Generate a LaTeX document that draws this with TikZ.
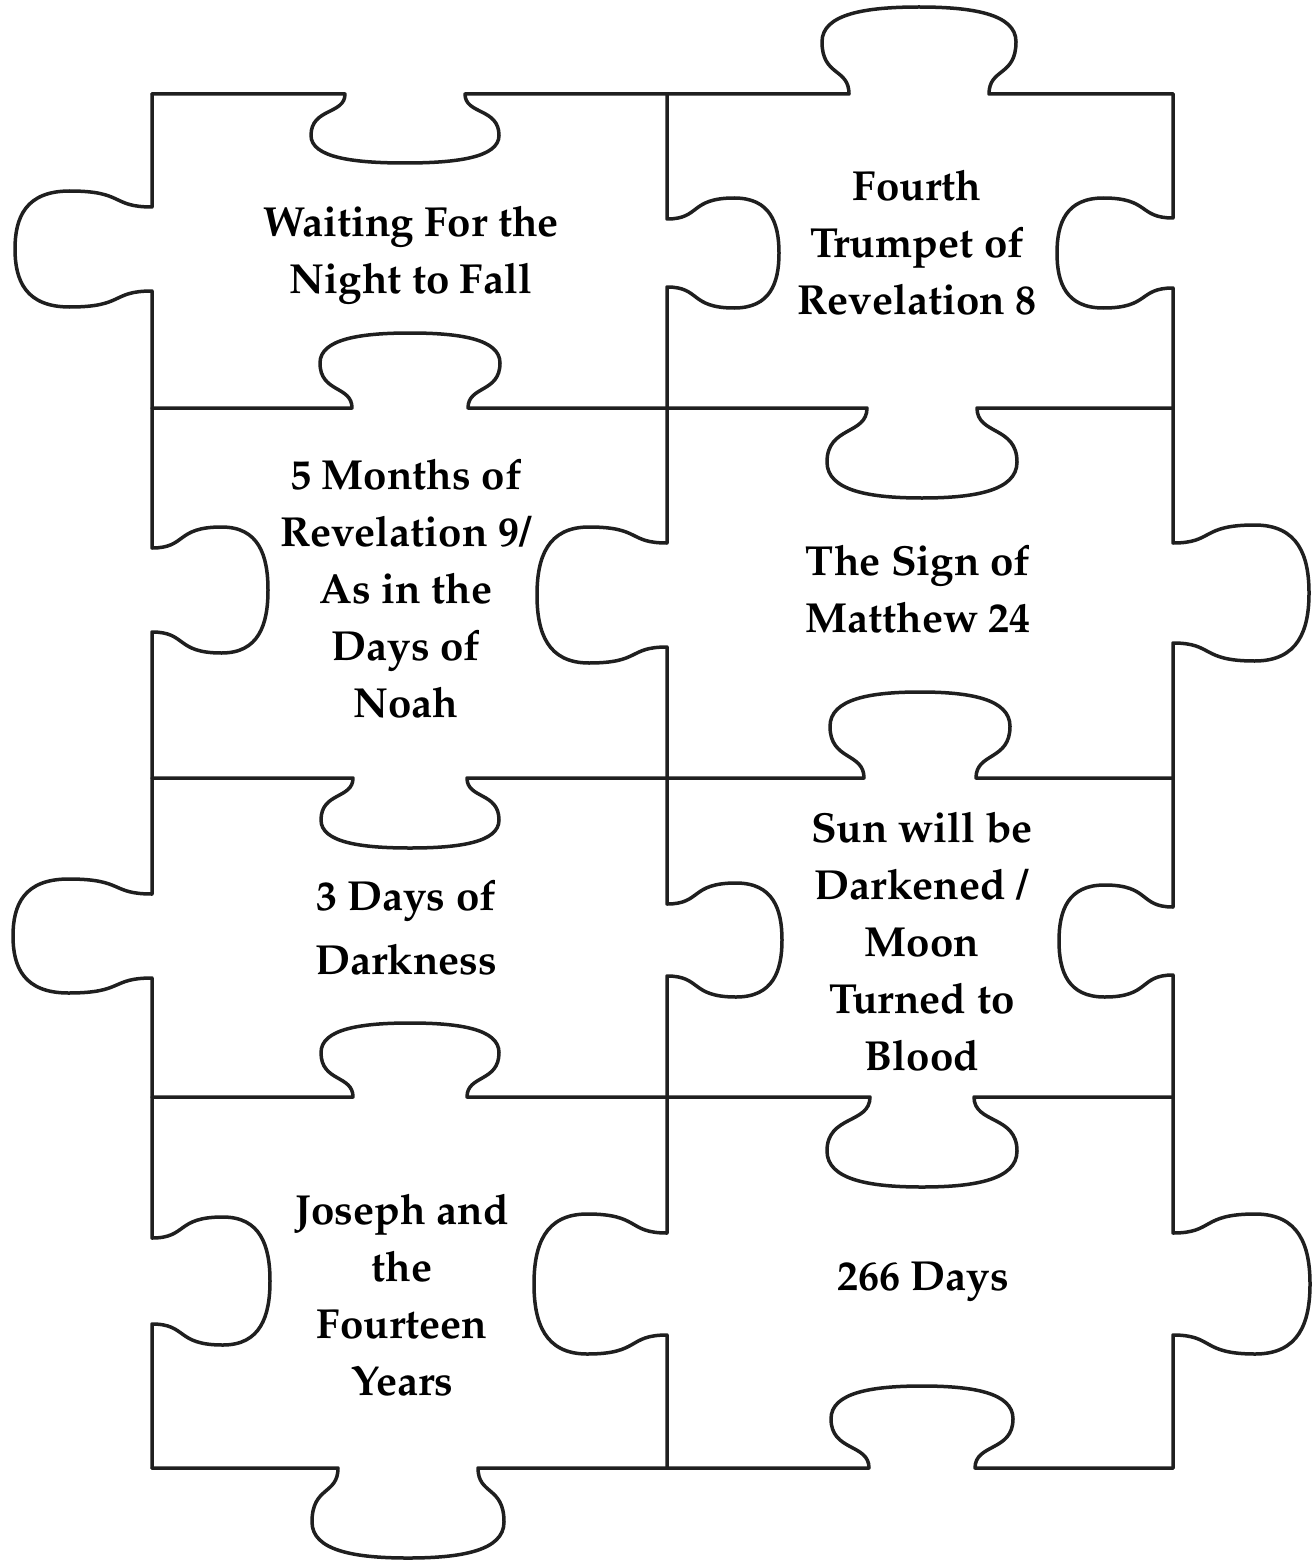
\documentclass[tikz,border=0pt]{standalone}
\usepackage[T1]{fontenc}
\renewcommand{\rmdefault}{ppl}
\tikzset{
  edge/.style={line width=3.5pt, black!88, line join=round, line cap=round},
  hb/.style n args={5}{insert path={
    -- ({#1-#3},#2)
    .. controls ({#1-#3},{#2+0.3*(#5)}) and ({#1-#4},{#2+0.2*(#5)}) .. ({#1-#4},{#2+0.6*(#5)})
    .. controls ({#1-#4},{#2+0.92*(#5)}) and ({#1-0.55*#4},{#2+#5}) .. (#1,{#2+#5})
    .. controls ({#1+0.55*#4},{#2+#5}) and ({#1+#4},{#2+0.92*(#5)}) .. ({#1+#4},{#2+0.6*(#5)})
    .. controls ({#1+#4},{#2+0.2*(#5)}) and ({#1+#3},{#2+0.3*(#5)}) .. ({#1+#3},#2)}},
  vb/.style n args={5}{insert path={
    -- (#2,{#1-#3})
    .. controls ({#2+0.3*(#5)},{#1-#3}) and ({#2+0.2*(#5)},{#1-#4}) .. ({#2+0.6*(#5)},{#1-#4})
    .. controls ({#2+0.92*(#5)},{#1-#4}) and ({#2+#5},{#1-0.55*#4}) .. ({#2+#5},#1)
    .. controls ({#2+#5},{#1+0.55*#4}) and ({#2+0.92*(#5)},{#1+#4}) .. ({#2+0.6*(#5)},{#1+#4})
    .. controls ({#2+0.2*(#5)},{#1+#4}) and ({#2+0.3*(#5)},{#1+#3}) .. (#2,{#1+#3})}},
  lbl/.style={align=center, inner sep=0pt, font=\fontsize{42}{57}\selectfont\bfseries},
  lblwide/.style={lbl, font=\fontsize{42}{64}\selectfont\bfseries}
}
\begin{document}
\begin{tikzpicture}[x=1pt,y=-1pt]
\useasboundingbox[fill=white] (0,0) rectangle (1314,1562);
% horizontal edges
\draw[edge] (152,94) [hb={405}{94}{60}{94}{69}] [hb={919}{94}{70}{97}{-87}] -- (1173,94);
\draw[edge] (152,408) [hb={410}{408}{58}{90}{-75}] [hb={922}{408}{55}{95}{90}] -- (1173,408);
\draw[edge] (152,778) [hb={410}{778}{57}{89}{70}] [hb={920}{778}{56}{90}{-86}] -- (1173,778);
\draw[edge] (152,1097) [hb={410}{1097}{57}{89}{-74}] [hb={922}{1097}{52}{95}{90}] -- (1173,1097);
\draw[edge] (152,1468) [hb={408}{1468}{70}{96}{90}] [hb={922}{1468}{53}{91}{-82}] -- (1173,1468);
% vertical edges
\draw[edge] (152,94) [vb={249}{152}{42}{58}{-137}] [vb={590}{152}{42}{63}{116}]
  [vb={936}{152}{42}{57}{-139}] [vb={1281}{152}{43}{64}{118}] -- (152,1468);
\draw[edge] (667,94) [vb={253}{667}{34}{55}{112}] [vb={595}{667}{52}{68}{-130}]
  [vb={940}{667}{36}{57}{115}] [vb={1284}{667}{51}{70}{-133}] -- (667,1468);
\draw[edge] (1173,94) [vb={253}{1173}{35}{55}{-116}] [vb={593}{1173}{50}{68}{136}]
  [vb={941}{1173}{34}{56}{-114}] [vb={1284}{1173}{51}{70}{137}] -- (1173,1468);
% labels
\node[lbl] (t1) at (411,255) {Waiting For the\\Night to Fall};
\node[lbl] (t2) at (917,243) {Fourth\\Trumpet of\\Revelation 8};
\node[lbl] (t3) at (406,589) {5 Months of\\Revelation 9/\\As in the\\Days of\\Noah};
\node[lbl] (t4) at (918,589) {The Sign of\\Matthew 24};
\node[lblwide] (t5) at (406,928) {3 Days of\\Darkness};
\node[lbl] (t6) at (922,942) {Sun will be\\Darkened /\\Moon\\Turned to\\Blood};
\node[lbl] (t7) at (402,1295) {Joseph and\\the\\Fourteen\\Years};
\node[lbl] (t8) at (923,1282) {266 Days};
\end{tikzpicture}
\end{document}
